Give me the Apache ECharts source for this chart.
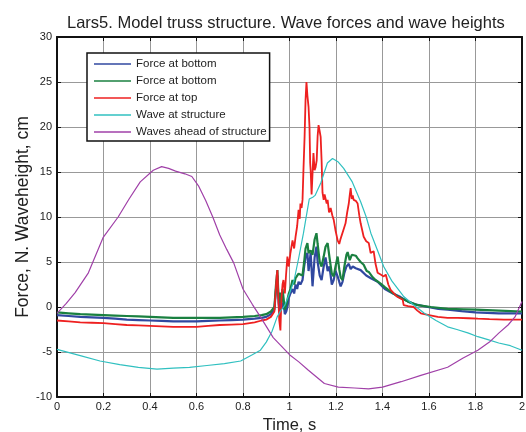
<!DOCTYPE html>
<html>
<head>
<meta charset="utf-8">
<script src="https://cdn.jsdelivr.net/npm/echarts@6/dist/echarts.min.js"></script>
<style>
html,body{margin:0;padding:0;background:#fff;}
#chart{width:526px;height:432px;}
</style>
</head>
<body>
<div id="chart"></div>
<script>
// ---- data (time in s, value) ----
const titleText = "Lars5. Model truss structure. Wave forces and wave heights";
const xAxisName = "Time, s";
const yAxisName = "Force, N. Waveheight, cm";
// second name carries a trailing space so the legend keeps both entries
const seriesNames = ["Force at bottom", "Force at bottom ", "Force at top", "Wave at structure", "Waves ahead of structure"];

const forceBottom1 = [
[0,-0.9],[0.05,-1.0],[0.1,-1.1],[0.15,-1.15],[0.2,-1.2],[0.25,-1.3],[0.3,-1.4],[0.35,-1.45],[0.4,-1.5],[0.45,-1.55],[0.5,-1.6],[0.55,-1.6],[0.6,-1.6],[0.65,-1.55],[0.7,-1.5],[0.75,-1.45],[0.8,-1.4],[0.85,-1.3],[0.88,-1.2],[0.9,-1.1],[0.92,-0.8],[0.935,-0.3],
[0.942,2.0],[0.948,3.5],[0.953,0.5],[0.958,-0.5],[0.962,1.0],[0.968,-0.2],[0.974,0.5],[0.980,-0.8],[0.986,-0.5],[0.991,0.0],[0.997,1.0],
[1.004,1.5],[1.013,2.0],[1.020,1.5],[1.026,2.5],[1.033,2.0],[1.039,2.8],[1.047,2.5],[1.056,3.0],[1.063,4.5],[1.069,5.5],[1.077,6.0],[1.082,4.0],[1.091,6.0],[1.099,2.3],
[1.108,5.5],[1.116,6.7],[1.121,5.0],[1.130,3.5],[1.138,3.0],[1.147,4.5],[1.155,5.5],[1.164,4.0],[1.172,4.5],[1.182,2.5],[1.190,3.0],[1.198,4.0],[1.207,3.4],[1.214,2.8],
[1.220,2.3],[1.228,2.8],[1.236,3.8],[1.245,4.5],[1.255,4.8],[1.263,4.2],[1.272,4.5],[1.285,4.3],[1.306,4.1],[1.330,3.5],[1.350,3.2],[1.379,2.8],[1.410,2.0],[1.445,1.5],
[1.478,1.1],[1.51,0.6],[1.540,0.3],[1.595,0.0],[1.64,-0.2],[1.681,-0.3],[1.74,-0.45],[1.8,-0.6],[1.85,-0.65],[1.9,-0.7],[1.95,-0.7],[2.0,-0.7]
];

const forceBottom2 = [
[0,-0.6],[0.05,-0.7],[0.1,-0.8],[0.15,-0.85],[0.2,-0.9],[0.25,-0.95],[0.3,-1.0],[0.35,-1.05],[0.4,-1.1],[0.45,-1.15],[0.5,-1.2],[0.55,-1.2],[0.6,-1.2],[0.65,-1.2],[0.7,-1.2],[0.75,-1.15],[0.8,-1.1],[0.85,-1.0],[0.88,-0.9],[0.9,-0.8],[0.92,-0.5],[0.935,0.0],
[0.942,2.5],[0.948,4.1],[0.952,1.5],[0.957,0.5],[0.961,1.6],[0.966,0.5],[0.970,2.0],[0.974,1.1],[0.980,-0.3],[0.986,0.2],[0.991,0.4],[0.997,1.5],
[1.004,2.0],[1.013,3.0],[1.020,2.5],[1.026,3.2],[1.033,3.0],[1.039,3.7],[1.047,3.7],[1.056,3.5],[1.063,5.0],[1.069,6.5],[1.077,7.1],[1.082,6.0],[1.091,6.3],[1.099,5.8],
[1.108,7.5],[1.116,8.2],[1.121,7.0],[1.130,5.0],[1.138,4.5],[1.147,5.6],[1.155,6.7],[1.164,7.1],[1.172,5.5],[1.182,3.7],[1.190,3.4],[1.198,4.5],[1.207,5.6],[1.214,4.2],
[1.220,3.3],[1.228,3.0],[1.236,4.5],[1.245,5.8],[1.250,6.1],[1.259,5.2],[1.268,5.8],[1.276,5.6],[1.285,5.7],[1.293,5.4],[1.306,5.0],[1.319,4.7],[1.332,4.0],[1.341,3.9],
[1.358,3.3],[1.370,3.0],[1.392,2.6],[1.410,2.2],[1.435,1.7],[1.470,1.1],[1.510,0.6],[1.552,0.2],[1.608,0.0],[1.68,-0.2],[1.75,-0.25],[1.8,-0.3],[1.9,-0.4],[2.0,-0.5]
];

const forceTop = [
[0,-1.5],[0.05,-1.6],[0.1,-1.7],[0.15,-1.75],[0.2,-1.8],[0.25,-1.9],[0.3,-2.0],[0.35,-2.05],[0.4,-2.1],[0.45,-2.15],[0.5,-2.2],[0.55,-2.2],[0.6,-2.2],[0.65,-2.1],[0.7,-2.0],[0.75,-1.95],[0.8,-1.9],[0.85,-1.7],[0.88,-1.5],[0.9,-1.4],[0.92,-1.1],[0.935,-0.5],
[0.945,3.5],[0.948,4.1],[0.952,1.0],[0.956,-1.5],[0.961,-2.6],[0.965,0.8],[0.970,2.5],[0.974,3.0],[0.980,1.5],[0.985,3.5],[0.991,5.6],[0.997,4.5],
[1.004,6.0],[1.013,7.4],[1.020,6.5],[1.026,7.8],[1.033,9.0],[1.039,10.8],[1.044,9.8],[1.047,11.5],[1.052,11.0],[1.056,11.9],[1.060,15.2],[1.065,19.0],[1.069,23.0],[1.073,25.0],
[1.077,23.5],[1.082,22.2],[1.086,20.0],[1.089,16.0],[1.091,15.2],[1.095,12.5],[1.099,12.7],[1.103,17.1],[1.108,15.2],[1.112,15.5],[1.117,16.3],[1.121,19.0],[1.125,20.2],
[1.130,19.5],[1.134,18.9],[1.138,16.3],[1.142,12.7],[1.147,11.9],[1.151,12.5],[1.155,12.7],[1.160,11.5],[1.164,11.9],[1.170,10.5],[1.177,11.0],[1.184,10.2],[1.190,9.7],
[1.198,8.5],[1.207,7.4],[1.214,7.0],[1.220,7.6],[1.228,7.8],[1.235,8.8],[1.241,9.3],[1.248,10.5],[1.255,11.5],[1.259,12.4],[1.263,13.2],[1.268,12.0],[1.272,12.4],[1.276,11.9],
[1.285,11.8],[1.293,11.5],[1.300,10.2],[1.306,9.3],[1.313,8.5],[1.319,7.8],[1.330,7.3],[1.341,7.1],[1.349,6.0],[1.355,6.2],[1.362,6.2],[1.370,4.8],[1.379,3.8],[1.392,3.6],
[1.405,3.4],[1.414,3.6],[1.425,2.5],[1.435,1.9],[1.46,1.2],[1.487,0.8],[1.491,0.2],[1.51,0.1],[1.534,0.0],[1.55,-0.4],[1.565,-0.7],[1.6,-0.9],[1.638,-1.1],[1.68,-1.2],
[1.724,-1.2],[1.77,-1.25],[1.81,-1.3],[1.86,-1.35],[1.922,-1.4],[1.96,-1.4],[2.0,-1.4]
];

const waveAtStructure = [
[0,-4.7],[0.1,-5.4],[0.185,-6.0],[0.27,-6.4],[0.35,-6.7],[0.43,-6.9],[0.5,-6.8],[0.57,-6.7],[0.645,-6.5],[0.72,-6.3],[0.79,-6.0],[0.84,-5.3],[0.875,-4.8],[0.90,-3.9],
[0.925,-2.7],[0.947,-1.1],[0.96,-0.5],[0.98,0.2],[1.0,1.5],[1.02,3.0],[1.04,5.5],[1.06,8.2],[1.077,10.8],[1.085,12.0],[1.10,12.2],[1.11,12.4],[1.135,13.8],[1.15,15.0],
[1.163,16.0],[1.185,16.5],[1.21,16.1],[1.233,15.4],[1.27,13.9],[1.306,11.7],[1.33,10.0],[1.35,8.2],[1.38,6.2],[1.405,4.5],[1.44,2.9],[1.49,1.2],[1.53,0.3],[1.58,-0.7],
[1.63,-1.5],[1.68,-2.2],[1.72,-2.5],[1.77,-2.9],[1.81,-3.3],[1.85,-3.6],[1.90,-4.0],[1.95,-4.3],[2.0,-4.8]
];

const wavesAhead = [
[0,-0.7],[0.04,0.4],[0.078,1.6],[0.135,3.8],[0.198,7.7],[0.263,10.0],[0.31,12.0],[0.358,13.9],[0.414,15.2],[0.45,15.6],[0.48,15.4],[0.51,15.1],[0.55,14.8],[0.58,14.5],
[0.61,13.4],[0.64,11.8],[0.67,10.0],[0.70,8.0],[0.73,6.4],[0.76,4.9],[0.80,2.0],[0.84,0.3],[0.875,-1.1],[0.93,-3.4],[0.96,-4.2],[1.0,-5.3],[1.04,-6.1],[1.08,-7.0],
[1.15,-8.5],[1.21,-8.9],[1.28,-9.0],[1.34,-9.1],[1.40,-8.9],[1.48,-8.3],[1.565,-7.6],[1.68,-6.7],[1.745,-5.7],[1.81,-4.8],[1.86,-3.9],[1.90,-2.9],[1.94,-2.0],[1.97,-1.1],[2.0,0.6]
];

const seriesData = [forceBottom1, forceBottom2, forceTop, waveAtStructure, wavesAhead];
const seriesColors = ["#3048a0", "#1a8040", "#ee2020", "#30c0c0", "#a040a8"];
const seriesWidths = [2.2, 2.2, 1.8, 1.2, 1.2];

const chart = echarts.init(document.getElementById('chart'), null, {renderer: 'canvas'});
const font = "'Liberation Sans', Arial, Helvetica, sans-serif";

const frame = {show: true, onZero: false, lineStyle: {color: '#111', width: 2}};
const tick = {show: true, inside: true, length: 4, lineStyle: {color: '#111', width: 1}};

const option = {
  animation: false,
  backgroundColor: '#fff',
  textStyle: {fontFamily: font},
  title: {
    text: titleText, left: 62, top: 10,
    textStyle: {fontFamily: font, fontSize: 16.5, fontWeight: 'normal', color: '#222'}
  },
  legend: {
    orient: 'vertical', left: 87, top: 53,
    data: seriesNames.map((n, i) => ({name: n, icon: 'rect', itemStyle: {color: seriesColors[i]}})),
    itemWidth: 37, itemHeight: 1.5, itemGap: 5,
    padding: [5, 3, 3, 7],
    backgroundColor: '#fff', borderColor: '#111', borderWidth: 1.5,
    textStyle: {fontFamily: font, fontSize: 11.5, color: '#222'},
    selectedMode: false
  },
  grid: {left: 57, right: 4, top: 37, bottom: 35, containLabel: false, outerBoundsMode: 'none'},
  xAxis: [
    {type: 'value', min: 0, max: 2, interval: 0.2, position: 'bottom',
     name: xAxisName, nameLocation: 'middle', nameGap: 19,
     nameTextStyle: {fontFamily: font, fontSize: 16.5, color: '#222'},
     axisLine: frame, axisTick: tick,
     axisLabel: {fontFamily: font, fontSize: 11, color: '#222', margin: 4},
     splitLine: {show: true, lineStyle: {color: '#999', width: 1}}},
    {type: 'value', min: 0, max: 2, interval: 0.2, position: 'top',
     axisLine: frame, axisTick: tick, axisLabel: {show: false}, splitLine: {show: false}}
  ],
  yAxis: [
    {type: 'value', min: -10, max: 30, interval: 5, position: 'left',
     name: yAxisName, nameLocation: 'middle', nameGap: 25, nameMoveOverlap: false,
     nameTextStyle: {fontFamily: font, fontSize: 17.5, color: '#222'},
     axisLine: frame, axisTick: tick,
     axisLabel: {fontFamily: font, fontSize: 11, color: '#222', margin: 5},
     splitLine: {show: true, lineStyle: {color: '#999', width: 1}}},
    {type: 'value', min: -10, max: 30, interval: 5, position: 'right',
     axisLine: frame, axisTick: tick, axisLabel: {show: false}, splitLine: {show: false}}
  ],
  series: seriesData.map((d, i) => ({
    name: seriesNames[i], type: 'line', data: d,
    xAxisIndex: 0, yAxisIndex: 0,
    symbol: 'none', showSymbol: false,
    lineStyle: {color: seriesColors[i], width: seriesWidths[i]},
    itemStyle: {color: seriesColors[i]},
    z: 2 + i
  }))
};
chart.setOption(option);
</script>
</body>
</html>
